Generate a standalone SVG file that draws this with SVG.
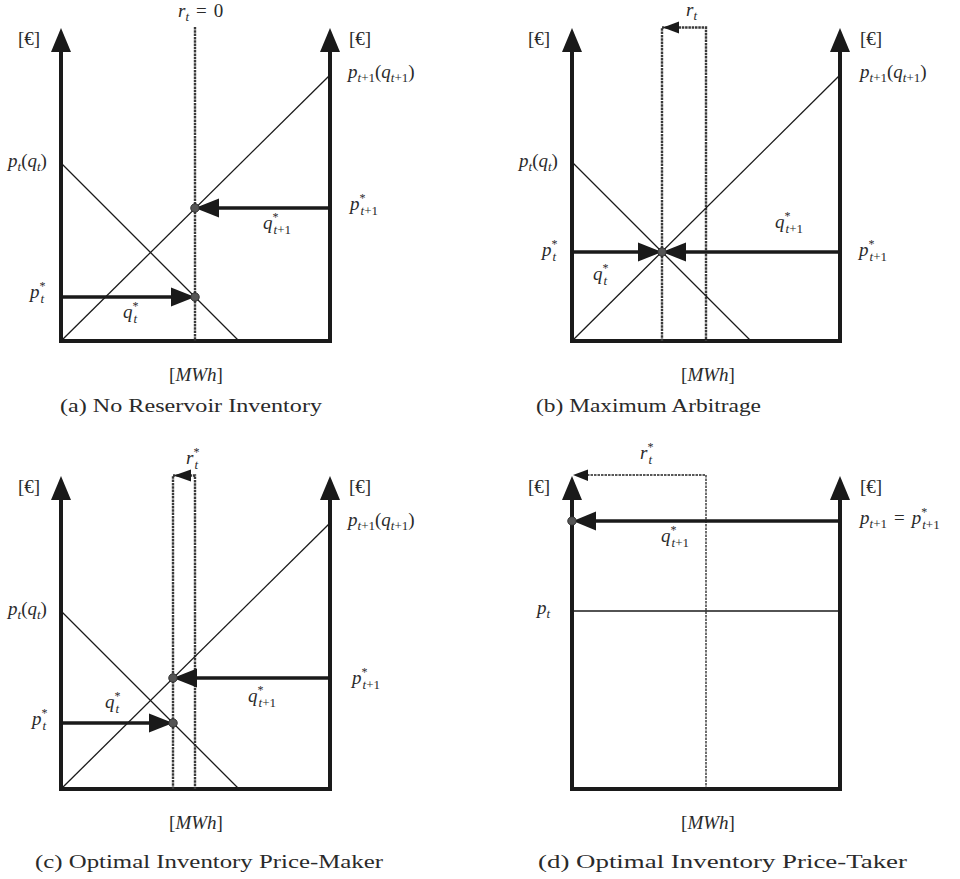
<svg xmlns="http://www.w3.org/2000/svg" width="960" height="879" viewBox="0 0 960 879">
<style>
.ax{fill:none;stroke:#1a1a1a;stroke-width:4;stroke-linejoin:miter}
.ah{fill:#1a1a1a}
.th{fill:none;stroke:#1a1a1a;stroke-width:1.3}
.tk{fill:none;stroke:#1a1a1a;stroke-width:3.6}
.dl{fill:none;stroke:#3a3a3a;stroke-width:2.4;stroke-dasharray:2.5 0.8}
.dt{fill:none;stroke:#222;stroke-width:1.3;stroke-dasharray:2.5 1}
.dot{fill:#555;stroke:#222;stroke-width:0.8}
text{font-family:"Liberation Serif","DejaVu Serif",serif;fill:#2a2a2a}
.m{font-size:19px;font-style:italic}
.u{font-style:normal}
.sub{font-size:13px}
.sup{font-size:12px;font-style:normal}
.cap{font-size:19px}
</style>

<!-- Panel (a) -->
<g id="panel-a">
  <g id="a-axes">
    <path class="ax" d="M61,50 V341 H330 V50"/>
    <polygon class="ah" points="61,28 51,52 71,52"/>
    <polygon class="ah" points="330,28 320,52 340,52"/>
  </g>
  <g id="a-connectors">
    <line class="dl" x1="195" y1="27" x2="195" y2="341"/>
    <line class="th" x1="61" y1="341" x2="330" y2="75"/>
    <line class="th" x1="61" y1="163" x2="239" y2="341"/>
    <line class="tk" x1="330" y1="208" x2="215" y2="208"/>
    <polygon class="ah" points="195,208 219,198.5 219,217.5"/>
    <line class="tk" x1="61" y1="297" x2="175" y2="297"/>
    <polygon class="ah" points="195,297 171,287.5 171,306.5"/>
  </g>
  <circle id="a-dot1" class="dot" cx="195" cy="208" r="4.3"/>
  <circle id="a-dot2" class="dot" cx="195" cy="297" r="4.3"/>
  <g id="a-labels">
    <text class="m" x="178" y="17">r<tspan class="sub" dy="4">t</tspan><tspan class="u" dy="-4" dx="7">=</tspan><tspan class="u" dx="7">0</tspan></text>
    <text class="m u" x="18" y="45">[€]</text>
    <text class="m u" x="349" y="45">[€]</text>
    <text class="m" x="348" y="78">p<tspan class="sub" dy="4">t</tspan><tspan class="sub u">+1</tspan><tspan class="u" dy="-4">(</tspan>q<tspan class="sub" dy="4">t</tspan><tspan class="sub u">+1</tspan><tspan class="u" dy="-4">)</tspan></text>
    <text class="m" x="8" y="167">p<tspan class="sub" dy="4">t</tspan><tspan class="u" dy="-4">(</tspan>q<tspan class="sub" dy="4">t</tspan><tspan class="u" dy="-4">)</tspan></text>
    <text class="m" x="350" y="210">p<tspan class="sup" dy="-8">*</tspan><tspan class="sub" dx="-5" dy="13">t</tspan><tspan class="sub u">+1</tspan></text>
    <text class="m" x="263" y="229">q<tspan class="sup" dy="-8">*</tspan><tspan class="sub" dx="-5" dy="13">t</tspan><tspan class="sub u">+1</tspan></text>
    <text class="m" x="30" y="298">p<tspan class="sup" dy="-8">*</tspan><tspan class="sub" dx="-5" dy="13">t</tspan></text>
    <text class="m" x="123" y="318">q<tspan class="sup" dy="-8">*</tspan><tspan class="sub" dx="-5" dy="13">t</tspan></text>
    <text class="m" x="196" y="381" text-anchor="middle"><tspan class="u">[</tspan>MWh<tspan class="u">]</tspan></text>
    <text class="cap" x="60" y="412" textLength="262" lengthAdjust="spacingAndGlyphs">(a) No Reservoir Inventory</text>
  </g>
</g>

<!-- Panel (b) -->
<g id="panel-b">
  <g id="b-axes">
    <path class="ax" d="M572,50 V341 H840 V50"/>
    <polygon class="ah" points="572,28 562,52 582,52"/>
    <polygon class="ah" points="840,28 830,52 850,52"/>
  </g>
  <g id="b-connectors">
    <path class="dl" d="M662,341 V27.5 H706 V341"/>
    <polygon class="ah" points="663,27.5 679,21.5 679,33.5"/>
    <line class="th" x1="572" y1="341" x2="840" y2="75"/>
    <line class="th" x1="572" y1="162" x2="751" y2="341"/>
    <line class="tk" x1="572" y1="252" x2="645" y2="252"/>
    <line class="tk" x1="680" y1="252" x2="840" y2="252"/>
    <polygon class="ah" points="662,252 638,242.5 638,261.5"/>
    <polygon class="ah" points="662,252 686,242.5 686,261.5"/>
  </g>
  <circle id="b-dot" class="dot" cx="662" cy="252" r="4.3"/>
  <g id="b-labels">
    <text class="m" x="686" y="16">r<tspan class="sub" dy="4">t</tspan></text>
    <text class="m u" x="528" y="45">[€]</text>
    <text class="m u" x="860" y="45">[€]</text>
    <text class="m" x="860" y="78">p<tspan class="sub" dy="4">t</tspan><tspan class="sub u">+1</tspan><tspan class="u" dy="-4">(</tspan>q<tspan class="sub" dy="4">t</tspan><tspan class="sub u">+1</tspan><tspan class="u" dy="-4">)</tspan></text>
    <text class="m" x="519" y="167">p<tspan class="sub" dy="4">t</tspan><tspan class="u" dy="-4">(</tspan>q<tspan class="sub" dy="4">t</tspan><tspan class="u" dy="-4">)</tspan></text>
    <text class="m" x="775" y="228">q<tspan class="sup" dy="-8">*</tspan><tspan class="sub" dx="-5" dy="13">t</tspan><tspan class="sub u">+1</tspan></text>
    <text class="m" x="542" y="256">p<tspan class="sup" dy="-8">*</tspan><tspan class="sub" dx="-5" dy="13">t</tspan></text>
    <text class="m" x="859" y="256">p<tspan class="sup" dy="-8">*</tspan><tspan class="sub" dx="-5" dy="13">t</tspan><tspan class="sub u">+1</tspan></text>
    <text class="m" x="593" y="280">q<tspan class="sup" dy="-8">*</tspan><tspan class="sub" dx="-5" dy="13">t</tspan></text>
    <text class="m" x="708" y="381" text-anchor="middle"><tspan class="u">[</tspan>MWh<tspan class="u">]</tspan></text>
    <text class="cap" x="536" y="412" textLength="225" lengthAdjust="spacingAndGlyphs">(b) Maximum Arbitrage</text>
  </g>
</g>

<!-- Panel (c) -->
<g id="panel-c">
  <g id="c-axes">
    <path class="ax" d="M61,498 V789 H330 V498"/>
    <polygon class="ah" points="61,476 51,500 71,500"/>
    <polygon class="ah" points="330,476 320,500 340,500"/>
  </g>
  <g id="c-connectors">
    <path class="dl" d="M173,789 V475.5 H195 V789"/>
    <polygon class="ah" points="174,475.5 191,469.5 191,481.5"/>
    <line class="th" x1="61" y1="789" x2="330" y2="523"/>
    <line class="th" x1="61" y1="611" x2="239" y2="789"/>
    <line class="tk" x1="330" y1="678" x2="193" y2="678"/>
    <polygon class="ah" points="173,678 197,668.5 197,687.5"/>
    <line class="tk" x1="61" y1="723" x2="153" y2="723"/>
    <polygon class="ah" points="173,723 149,713.5 149,732.5"/>
  </g>
  <circle id="c-dot1" class="dot" cx="173" cy="678" r="4.3"/>
  <circle id="c-dot2" class="dot" cx="173" cy="723" r="4.3"/>
  <g id="c-labels">
    <text class="m" x="186" y="464">r<tspan class="sup" dy="-8">*</tspan><tspan class="sub" dx="-5" dy="13">t</tspan></text>
    <text class="m u" x="18" y="493">[€]</text>
    <text class="m u" x="349" y="493">[€]</text>
    <text class="m" x="348" y="526">p<tspan class="sub" dy="4">t</tspan><tspan class="sub u">+1</tspan><tspan class="u" dy="-4">(</tspan>q<tspan class="sub" dy="4">t</tspan><tspan class="sub u">+1</tspan><tspan class="u" dy="-4">)</tspan></text>
    <text class="m" x="8" y="615">p<tspan class="sub" dy="4">t</tspan><tspan class="u" dy="-4">(</tspan>q<tspan class="sub" dy="4">t</tspan><tspan class="u" dy="-4">)</tspan></text>
    <text class="m" x="352" y="684">p<tspan class="sup" dy="-8">*</tspan><tspan class="sub" dx="-5" dy="13">t</tspan><tspan class="sub u">+1</tspan></text>
    <text class="m" x="248" y="702">q<tspan class="sup" dy="-8">*</tspan><tspan class="sub" dx="-5" dy="13">t</tspan><tspan class="sub u">+1</tspan></text>
    <text class="m" x="105" y="708">q<tspan class="sup" dy="-8">*</tspan><tspan class="sub" dx="-5" dy="13">t</tspan></text>
    <text class="m" x="32" y="725">p<tspan class="sup" dy="-8">*</tspan><tspan class="sub" dx="-5" dy="13">t</tspan></text>
    <text class="m" x="196" y="829" text-anchor="middle"><tspan class="u">[</tspan>MWh<tspan class="u">]</tspan></text>
    <text class="cap" x="35" y="868" textLength="348" lengthAdjust="spacingAndGlyphs">(c) Optimal Inventory Price-Maker</text>
  </g>
</g>

<!-- Panel (d) -->
<g id="panel-d">
  <g id="d-axes">
    <path class="ax" d="M572,498 V789 H840 V498"/>
    <polygon class="ah" points="572,476 562,500 582,500"/>
    <polygon class="ah" points="840,476 830,500 850,500"/>
  </g>
  <g id="d-connectors">
    <path class="dt" d="M706,789 V475 H585"/>
    <polygon class="ah" points="573,475 588,469.5 588,481"/>
    <line class="th" x1="572" y1="611" x2="840" y2="611"/>
    <line class="tk" x1="840" y1="521" x2="592" y2="521"/>
    <polygon class="ah" points="573,521 596,511.5 596,530.5"/>
  </g>
  <circle id="d-dot" class="dot" cx="572" cy="521" r="4.3"/>
  <g id="d-labels">
    <text class="m" x="640" y="459">r<tspan class="sup" dy="-8">*</tspan><tspan class="sub" dx="-5" dy="13">t</tspan></text>
    <text class="m u" x="528" y="493">[€]</text>
    <text class="m u" x="860" y="493">[€]</text>
    <text class="m" x="860" y="524">p<tspan class="sub" dy="4">t</tspan><tspan class="sub u">+1</tspan><tspan class="u" dy="-4" dx="7">=</tspan><tspan dx="7">p</tspan><tspan class="sup" dy="-8">*</tspan><tspan class="sub" dx="-5" dy="13">t</tspan><tspan class="sub u">+1</tspan></text>
    <text class="m" x="661" y="542">q<tspan class="sup" dy="-8">*</tspan><tspan class="sub" dx="-5" dy="13">t</tspan><tspan class="sub u">+1</tspan></text>
    <text class="m" x="537" y="614">p<tspan class="sub" dy="4">t</tspan></text>
    <text class="m" x="708" y="829" text-anchor="middle"><tspan class="u">[</tspan>MWh<tspan class="u">]</tspan></text>
    <text class="cap" x="538" y="868" textLength="369" lengthAdjust="spacingAndGlyphs">(d) Optimal Inventory Price-Taker</text>
  </g>
</g>
</svg>
